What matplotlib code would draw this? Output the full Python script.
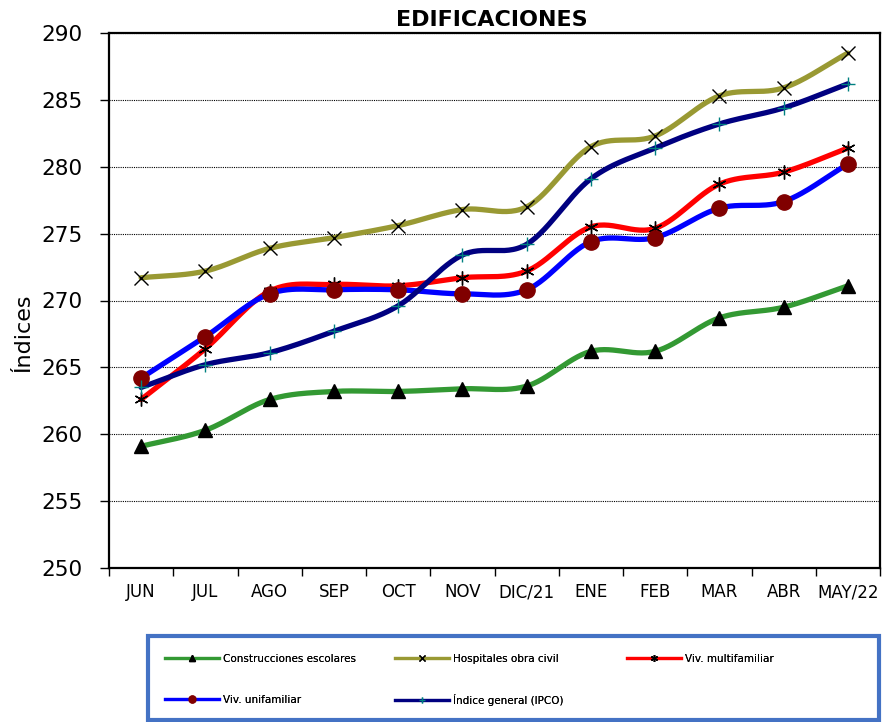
import numpy as np
import matplotlib
matplotlib.use("Agg")
import matplotlib.pyplot as plt
from matplotlib.lines import Line2D
from matplotlib.patches import Rectangle

plt.rcParams['font.family'] = ['DejaVu Sans']

months = ["JUN", "JUL", "AGO", "SEP", "OCT", "NOV", "DIC/21", "ENE", "FEB", "MAR", "ABR", "MAY/22"]
escolares = [259.1, 260.3, 262.6, 263.2, 263.2, 263.4, 263.6, 266.2, 266.2, 268.7, 269.5, 271.1]
hospitales = [271.7, 272.2, 273.9, 274.7, 275.6, 276.8, 277.0, 281.5, 282.3, 285.3, 285.9, 288.5]
multifamiliar = [262.6, 266.4, 270.7, 271.2, 271.1, 271.7, 272.2, 275.5, 275.4, 278.7, 279.6, 281.4]
unifamiliar = [264.2, 267.3, 270.5, 270.8, 270.8, 270.5, 270.8, 274.4, 274.7, 276.9, 277.4, 280.2]
ipco = [263.5, 265.2, 266.1, 267.7, 269.6, 273.4, 274.2, 279.1, 281.4, 283.2, 284.4, 286.2]


def smooth(x, y, n=30):
    # Catmull-Rom style smoothing like Excel's smoothed line
    x = np.asarray(x, float)
    y = np.asarray(y, float)
    px = np.concatenate([[2 * x[0] - x[1]], x, [2 * x[-1] - x[-2]]])
    py = np.concatenate([[2 * y[0] - y[1]], y, [2 * y[-1] - y[-2]]])
    xs, ys = [], []
    t = np.linspace(0, 1, n)
    for i in range(1, len(px) - 2):
        p0, p1, p2, p3 = py[i - 1], py[i], py[i + 1], py[i + 2]
        q0, q1, q2, q3 = px[i - 1], px[i], px[i + 1], px[i + 2]
        fy = 0.5 * ((2 * p1) + (-p0 + p2) * t + (2 * p0 - 5 * p1 + 4 * p2 - p3) * t ** 2 + (-p0 + 3 * p1 - 3 * p2 + p3) * t ** 3)
        fx = 0.5 * ((2 * q1) + (-q0 + q2) * t + (2 * q0 - 5 * q1 + 4 * q2 - q3) * t ** 2 + (-q0 + 3 * q1 - 3 * q2 + q3) * t ** 3)
        xs.extend(fx)
        ys.extend(fy)
    return np.array(xs), np.array(ys)


W, H = 886, 722
fig = plt.figure(figsize=(W / 100, H / 100), dpi=100)
ax = fig.add_axes([109 / W, 1 - 568 / H, 771 / W, 535 / H])
x = np.arange(len(months))

series = [
    ("Construcciones escolares", escolares, "#339933", "^", "black", 10),
    ("Hospitales obra civil", hospitales, "#999933", "x", "black", 10),
    ("Viv. multifamiliar", multifamiliar, "#FF0000", (6, 2, 0), "black", 10),
    ("Viv. unifamiliar", unifamiliar, "#0000FF", "o", "#800000", 11),
    ("Índice general (IPCO)", ipco, "#000080", "+", "#008080", 10),
]

for label, vals, color, marker, mcolor, ms in series:
    sx, sy = smooth(x, vals)
    ax.plot(sx, sy, color=color, lw=3.8, solid_capstyle='round', zorder=2)
for label, vals, color, marker, mcolor, ms in series:
    ax.plot(x, vals, linestyle='none', marker=marker, markersize=ms,
            markerfacecolor=mcolor, markeredgecolor=mcolor, markeredgewidth=1.0, zorder=3)

ax.set_xlim(-0.5, len(months) - 0.5)
ax.set_ylim(250, 290)
ax.set_yticks(np.arange(250, 291, 5))
ax.yaxis.grid(True, linestyle=(0, (1, 1)), color='black', linewidth=0.8)
ax.set_axisbelow(True)
ax.set_xticks(x)
ax.set_xticklabels(months, fontsize=12)
ax.set_xticks(np.arange(-0.5, len(months), 1), minor=True)
ax.tick_params(axis='x', which='major', length=0, pad=11)
ax.tick_params(axis='x', which='minor', length=6, width=1, direction='out')
ax.tick_params(axis='y', labelsize=15.5, length=6.5, width=1, direction='out', pad=12.5)
for s in ax.spines.values():
    s.set_linewidth(1.6)
    s.set_color('black')

ax.set_ylabel("Índices", fontsize=16)
ax.yaxis.set_label_coords((33 - 109) / 771, 0.44)
fig.text(491.5 / W, 1 - 20.5 / H, "EDIFICACIONES", ha='center', va='center',
         fontsize=16, fontweight='bold')

# legend frame
fig.patches.append(Rectangle((148 / W, 1 - 720 / H), 731 / W, 84 / H, transform=fig.transFigure,
                             fill=False, edgecolor='#4472C4', linewidth=3, figure=fig))

positions = [(165, 659), (395, 659), (627, 659), (165, 700), (395, 700)]
for (label, vals, color, marker, mcolor, ms), (px, py) in zip(series, positions):
    h = Line2D([0], [0], color=color, lw=2.3, marker=marker, markersize=5,
               markerfacecolor=mcolor, markeredgecolor=mcolor)
    lg = fig.legend([h], [label], loc='center left', bbox_to_anchor=(px / W, 1 - py / H),
                    frameon=False, fontsize=7.5, handlelength=5.2, handletextpad=0.4,
                    borderpad=0, borderaxespad=0)
    fig.add_artist(lg)

fig.savefig("out.png", dpi=100)
